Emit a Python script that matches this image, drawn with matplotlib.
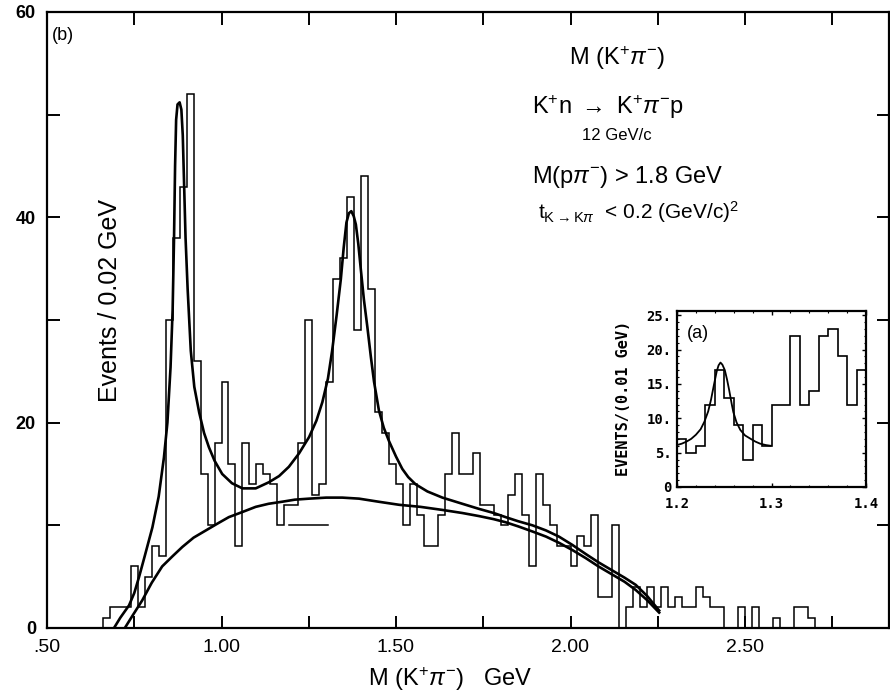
import numpy as np
import matplotlib
matplotlib.use('Agg')
from matplotlib import pyplot as plt

# main histogram: events per 0.02 GeV, first bin starts at 0.66 GeV
bin_lo = 0.66
bin_w = 0.02
counts = [1, 2, 2, 2, 6, 2, 5, 8, 7, 30,
          38, 43, 52, 26, 15, 10, 18, 24, 16, 8,
          18, 14, 16, 15, 14, 10, 12, 12, 18, 30,
          13, 14, 24, 34, 36, 42, 29, 44, 33, 21,
          19, 16, 14, 10, 14, 11, 8, 8, 11, 15,
          19, 15, 15, 17, 12, 12, 11, 10, 13, 15,
          11, 6, 15, 12, 10, 8, 8, 6, 9, 8,
          11, 3, 3, 10, 0, 2, 4, 2, 4, 2,
          4, 2, 3, 2, 2, 4, 3, 2, 2, 0,
          0, 2, 0, 2, 0, 0, 1, 0, 0, 2,
          2, 1]

# full fit (two resonances + background)
fit_m = [0.692, 0.710, 0.735, 0.750, 0.764, 0.780, 0.802, 0.820, 0.835, 0.845,
         0.854, 0.860, 0.864, 0.867, 0.870, 0.874, 0.880, 0.885, 0.889, 0.893,
         0.897, 0.903, 0.912, 0.922, 0.936, 0.950, 0.964, 0.980, 1.002, 1.030,
         1.060, 1.098, 1.136, 1.165, 1.193, 1.222, 1.251, 1.272, 1.289, 1.305,
         1.317, 1.330, 1.342, 1.350, 1.358, 1.365, 1.372, 1.379, 1.385, 1.392,
         1.399, 1.408, 1.418, 1.428, 1.437, 1.451, 1.465, 1.480, 1.500, 1.518,
         1.535, 1.556, 1.590, 1.633, 1.690, 1.738, 1.780, 1.814, 1.850, 1.891,
         1.930, 1.967, 2.005, 2.044, 2.080, 2.120, 2.155, 2.187, 2.220, 2.254]
fit_y = [0.0, 1.0, 2.2, 3.4, 5.0, 7.0, 9.8, 12.8, 16.6, 20.0,
         25.4, 31.0, 38.0, 45.0, 49.5, 51.0, 51.2, 50.5, 48.0, 43.0,
         38.0, 33.0, 27.0, 23.5, 21.0, 19.0, 17.6, 16.3, 15.0, 14.1,
         13.6, 13.6, 14.2, 14.8, 15.7, 17.0, 18.6, 20.2, 22.0, 24.3,
         27.0, 30.5, 34.0, 37.0, 39.5, 40.4, 40.6, 40.1, 39.3, 37.4,
         35.0, 32.0, 29.3, 26.4, 24.0, 21.2, 19.5, 18.2, 16.7, 15.5,
         14.7, 14.0, 13.3, 12.7, 12.1, 11.6, 11.2, 10.8, 10.4, 10.0,
         9.5, 8.9, 8.1, 7.2, 6.4, 5.6, 4.9, 4.2, 3.1, 1.7]

# background part of the fit
bg_m = [0.723, 0.745, 0.773, 0.800, 0.830, 0.860, 0.888, 0.920, 0.955, 0.990,
        1.021, 1.060, 1.098, 1.135, 1.174, 1.210, 1.251, 1.300, 1.346, 1.394,
        1.450, 1.509, 1.570, 1.633, 1.690, 1.738, 1.780, 1.814, 1.850, 1.891,
        1.930, 1.967, 2.005, 2.044, 2.080, 2.120, 2.155, 2.187, 2.220, 2.254]
bg_y = [0.0, 1.2, 2.7, 4.4, 6.0, 7.0, 7.9, 8.8, 9.5, 10.2,
        10.8, 11.3, 11.8, 12.1, 12.3, 12.5, 12.6, 12.7, 12.7, 12.6,
        12.3, 12.0, 11.8, 11.5, 11.2, 10.9, 10.6, 10.3, 9.9, 9.4,
        8.9, 8.3, 7.6, 6.8, 6.0, 5.2, 4.5, 3.7, 2.7, 1.5]

# short horizontal bar under the 1.25 region
res_m = [1.193, 1.306]
res_y = [10, 10]

# inset (a): events per 0.01 GeV from 1.20 GeV
in_lo = 1.20
in_w = 0.01
in_counts = [7, 5, 6, 12, 17, 13, 9, 4, 9, 6,
             12, 12, 22, 12, 14, 22, 23, 19, 12, 17]
in_fit_m = [1.200, 1.205, 1.210, 1.215, 1.220, 1.225, 1.229, 1.233, 1.236, 1.239,
            1.242, 1.244, 1.246, 1.248, 1.2506, 1.253, 1.2552, 1.258, 1.2596, 1.263,
            1.267, 1.272, 1.278, 1.283, 1.288, 1.294, 1.299]
in_fit_y = [6.1, 6.3, 6.6, 7.0, 7.6, 8.4, 9.5, 11.0, 12.7, 14.8,
            16.8, 17.7, 18.1, 17.8, 17.0, 15.6, 14.1, 12.0, 10.9, 9.4,
            8.3, 7.5, 7.0, 6.6, 6.3, 6.1, 6.0]

x_ticks = [0.5, 0.75, 1.0, 1.25, 1.5, 1.75, 2.0, 2.25, 2.5, 2.75]
x_ticklabels = ['.50', '', '1.00', '', '1.50', '', '2.00', '', '2.50', '']
y_ticks = [0, 10, 20, 30, 40, 50, 60]
y_ticklabels = ['0', '', '20', '', '40', '', '60']
in_x_ticks = [1.2, 1.3, 1.4]
in_x_ticklabels = ['1.2', '1.3', '1.4']
in_y_ticks = [0, 5, 10, 15, 20, 25]
in_y_ticklabels = ['0', '5.', '10.', '15.', '20.', '25.']

W, H = 890, 696


def fx(px):
    return px / W


def fy(py):
    return 1 - py / H


def main():
    plt.rcParams['font.family'] = ['Liberation Sans', 'DejaVu Sans']
    plt.rcParams['mathtext.fontset'] = 'custom'
    plt.rcParams['mathtext.rm'] = 'Liberation Sans'
    plt.rcParams['mathtext.it'] = 'Liberation Sans:italic'
    plt.rcParams['mathtext.bf'] = 'Liberation Sans:bold'

    fig = plt.figure(figsize=(W / 100, H / 100), dpi=100)
    ax = fig.add_axes([fx(47), fy(628), (889 - 47) / W, (628 - 12) / H])

    edges = bin_lo + bin_w * np.arange(len(counts) + 1)
    ax.stairs(counts, edges, baseline=0, color='black', lw=1.1)
    ax.plot(fit_m, fit_y, color='black', lw=1.9)
    ax.plot(bg_m, bg_y, color='black', lw=1.9)
    ax.plot(res_m, res_y, color='black', lw=1.1)

    ax.set_xlim(0.5, 0.5 + 842 / 349)
    ax.set_ylim(0, 60)
    ax.set_xticks(x_ticks)
    ax.set_xticklabels(x_ticklabels, fontsize=14)
    ax.set_yticks(y_ticks)
    ax.set_yticklabels(y_ticklabels, fontsize=13, fontweight='bold')
    ax.tick_params(direction='in', length=9, width=1.4, top=True, right=True, pad=8)
    for s in ax.spines.values():
        s.set_linewidth(1.6)

    fig.text(fx(110), fy(300), 'Events / 0.02 GeV', rotation=90, fontsize=18,
             ha='center', va='center')
    fig.text(fx(450), fy(679), r'M (K$^{+}\pi^{-}$)   GeV', fontsize=17,
             ha='center', va='center')
    fig.text(fx(52), fy(35), '(b)', fontsize=13, ha='left', va='center')

    fig.text(fx(617), fy(58), r'M (K$^{+}\pi^{-}$)', fontsize=17, ha='center', va='center')
    fig.text(fx(532), fy(107), r'K$^{+}$n $\rightarrow$ K$^{+}\pi^{-}$p', fontsize=17,
             ha='left', va='center')
    fig.text(fx(582), fy(135), '12 GeV/c', fontsize=12, ha='left', va='center')
    fig.text(fx(532), fy(177), r'M(p$\pi^{-}$) > 1.8 GeV', fontsize=17, ha='left', va='center')
    fig.text(fx(538), fy(212), r't$_{\mathrm{K}\rightarrow\mathrm{K}\pi}$  < 0.2 (GeV/c)$^{2}$',
             fontsize=15, ha='left', va='center')

    # inset (a)
    ins = fig.add_axes([fx(677), fy(487), (866 - 677) / W, (487 - 311) / H])
    in_edges = in_lo + in_w * np.arange(len(in_counts) + 1)
    ins.stairs(in_counts, in_edges, baseline=0, color='black', lw=1.2)
    ins.plot(in_fit_m, in_fit_y, color='black', lw=1.3)
    ins.set_xlim(1.2, 1.4)
    ins.set_ylim(0, 25.6)
    ins.set_xticks(in_x_ticks)
    ins.set_xticklabels(in_x_ticklabels, family='DejaVu Sans Mono', fontweight='bold', fontsize=10)
    ins.set_yticks(in_y_ticks)
    ins.set_yticklabels(in_y_ticklabels, family='DejaVu Sans Mono', fontweight='bold', fontsize=10)
    ins.set_xticks(np.arange(1.2, 1.4, 0.02), minor=True)
    ins.set_yticks(np.arange(0, 25, 1), minor=True)
    ins.tick_params(axis='x', direction='in', length=3, width=1.0, top=True, pad=7)
    ins.tick_params(axis='y', direction='in', length=3, width=1.0, right=True, pad=4)
    ins.tick_params(which='minor', direction='in', length=1.5, width=0.8, top=True, right=True)
    for s in ins.spines.values():
        s.set_linewidth(1.6)
    ins.text(0.05, 0.87, '(a)', transform=ins.transAxes, fontsize=13, ha='left', va='center')
    fig.text(fx(624), fy(398), 'EVENTS/(0.01 GeV)', rotation=90, family='DejaVu Sans Mono',
             fontweight='bold', fontsize=11, ha='center', va='center')

    fig.savefig('out.png', dpi=100)


if __name__ == "__main__":
    main()
